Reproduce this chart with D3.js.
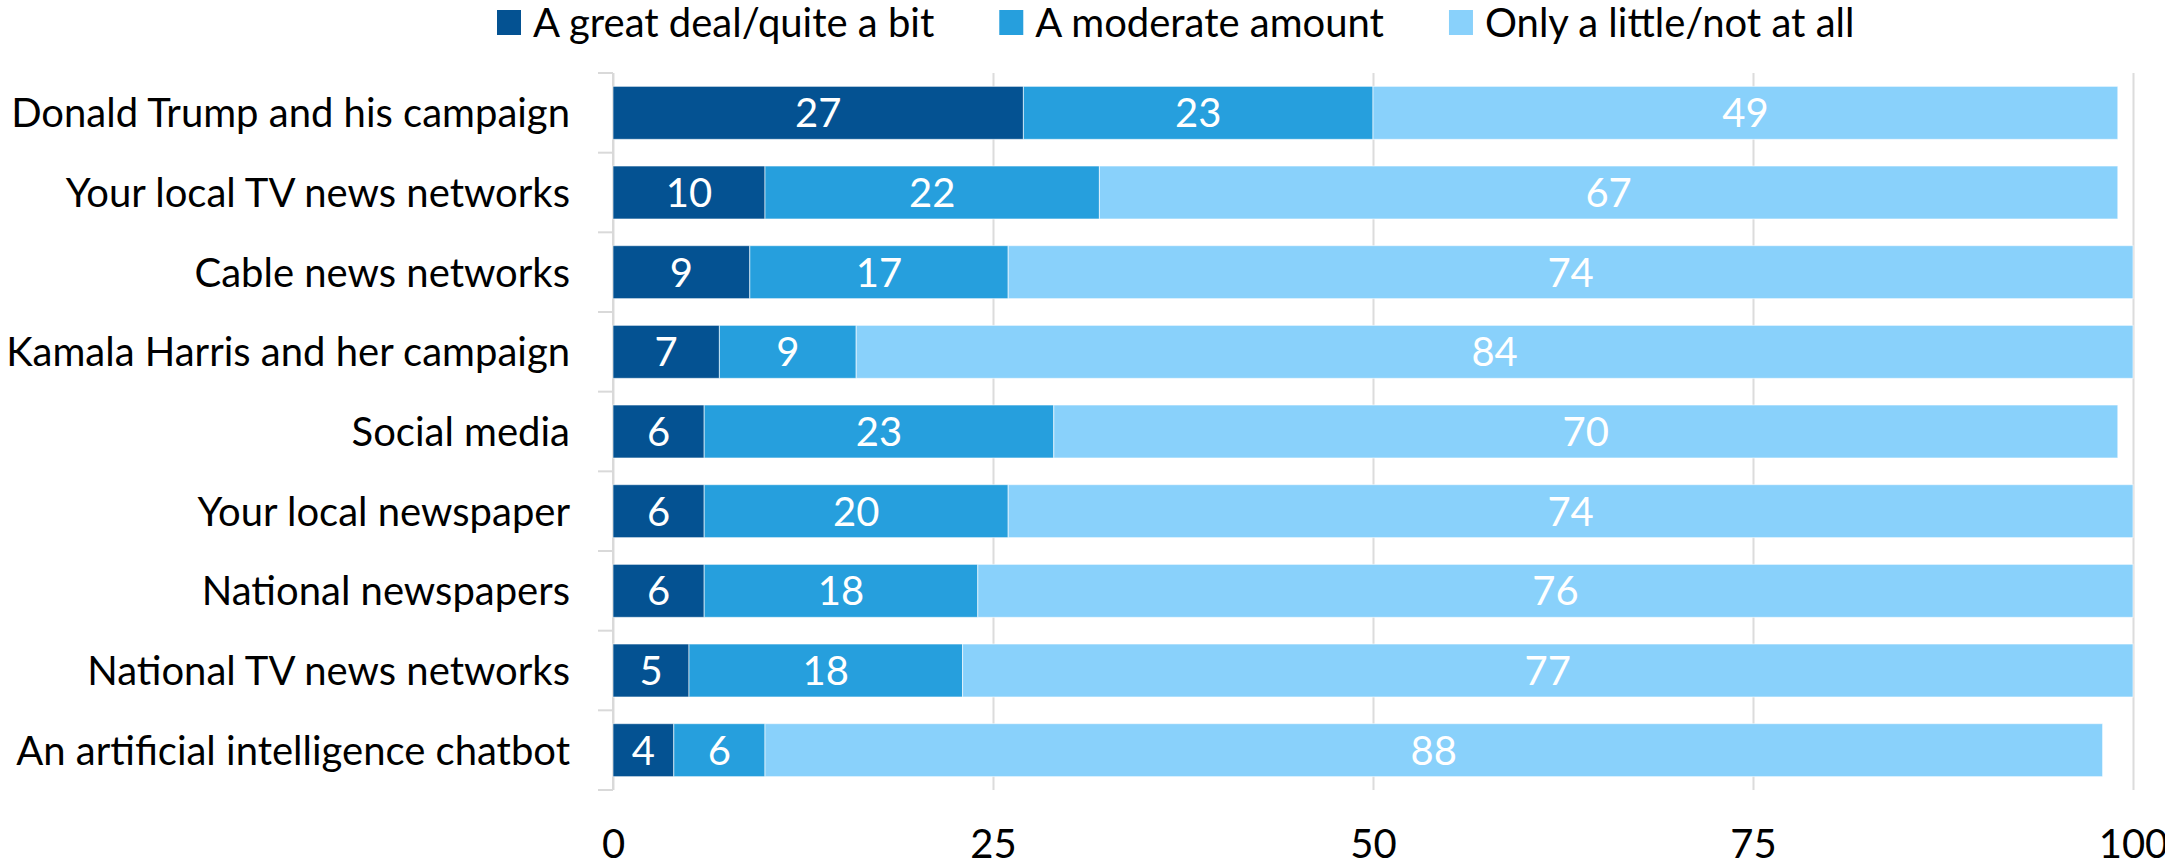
<!doctype html>
<html>
<head>
<meta charset="utf-8">
<script src="https://d3js.org/d3.v7.min.js"></script>
<style>
    body { margin: 0; background: #fff; }
    text { font-family: Lato, "Open Sans", sans-serif; }
</style>
</head>
<body>
<svg width="2165" height="867"></svg>
<script>

// chart values
var categories = [
    "Donald Trump and his campaign",
    "Your local TV news networks",
    "Cable news networks",
    "Kamala Harris and her campaign",
    "Social media",
    "Your local newspaper",
    "National newspapers",
    "National TV news networks",
    "An artificial intelligence chatbot"
];
var seriesNames = ["A great deal/quite a bit", "A moderate amount", "Only a little/not at all"];
var greatDeal = [27, 10, 9, 7, 6, 6, 6, 5, 4];
var moderate  = [23, 22, 17, 9, 23, 20, 18, 18, 6];
var little    = [49, 67, 74, 84, 70, 74, 76, 77, 88];
var xTicks = [0, 25, 50, 75, 100];

var colors = ["#045292", "#269fdd", "#89d1fb"];

var svg = d3.select("svg"),
    plotLeft = 613,
    plotRight = 2133,
    plotTop = 73,
    plotBottom = 790,
    fontSize = 40;

var rows = categories.map(function(c, i) {
    return { cat: c, s0: greatDeal[i], s1: moderate[i], s2: little[i] };
});

var stack = d3.stack().keys(["s0", "s1", "s2"]);
var layers = stack(rows);

var x = d3.scaleLinear().domain([0, 100]).range([plotLeft, plotRight]);
var y = d3.scaleBand().domain(categories).range([plotTop, plotBottom])
    .paddingInner(0.335).paddingOuter(0.1675);

// vertical gridlines
var grid = svg.append("g")
    .attr("transform", "translate(0," + plotBottom + ")")
    .call(d3.axisBottom(x).tickValues(xTicks).tickSize(-(plotBottom - plotTop)).tickFormat(""));
grid.select(".domain").remove();
grid.selectAll("line").attr("stroke", "#dcdcdc").attr("stroke-width", 2);

// y axis line + ticks at band boundaries
var step = y.step();
var bounds = categories.map(function(c) { return y(c) - (step - y.bandwidth()) / 2; });
bounds.push(bounds[bounds.length - 1] + step);
svg.append("line")
    .attr("x1", x(0)).attr("x2", x(0))
    .attr("y1", plotTop).attr("y2", plotBottom)
    .attr("stroke", "#d9d9d9").attr("stroke-width", 2);
svg.selectAll(".ytick")
    .data(bounds)
    .enter().append("line")
    .attr("class", "ytick")
    .attr("x1", x(0) - 15).attr("x2", x(0))
    .attr("y1", function(d) { return d; })
    .attr("y2", function(d) { return d; })
    .attr("stroke", "#d9d9d9").attr("stroke-width", 2);

// category labels
var yAxis = svg.append("g")
    .attr("transform", "translate(" + (x(0) - 43) + ",0)")
    .call(d3.axisLeft(y).tickSize(0).tickPadding(0));
yAxis.select(".domain").remove();
yAxis.selectAll("text")
    .attr("font-size", fontSize)
    .attr("fill", "#000")
    .attr("dy", "0.36em");

// x tick labels
var xAxis = svg.append("g")
    .attr("transform", "translate(0," + plotBottom + ")")
    .call(d3.axisBottom(x).tickValues(xTicks).tickSize(0).tickPadding(0));
xAxis.select(".domain").remove();
xAxis.selectAll("text")
    .attr("font-size", fontSize)
    .attr("fill", "#000")
    .attr("dy", null)
    .attr("y", 68);

// bars
var layer = svg.selectAll(".layer")
    .data(layers)
    .enter().append("g")
    .attr("class", "layer")
    .attr("fill", function(d, i) { return colors[i]; });

layer.selectAll("rect")
    .data(function(d) { return d; })
    .enter().append("rect")
    .attr("x", function(d) { return x(d[0]); })
    .attr("y", function(d) { return y(d.data.cat); })
    .attr("width", function(d) { return x(d[1]) - x(d[0]); })
    .attr("height", y.bandwidth())
    .attr("stroke", "#fff")
    .attr("stroke-opacity", 0.6)
    .attr("stroke-width", 1);

layer.selectAll("text")
    .data(function(d) { return d; })
    .enter().append("text")
    .attr("x", function(d) { return (x(d[0]) + x(d[1])) / 2; })
    .attr("y", function(d) { return y(d.data.cat) + y.bandwidth() / 2; })
    .attr("dy", "0.36em")
    .attr("text-anchor", "middle")
    .attr("fill", "#fff")
    .attr("font-size", fontSize)
    .text(function(d) { return d[1] - d[0]; });

// legend
var legend = svg.append("g").attr("class", "legend");
var lx = 497;
seriesNames.forEach(function(name, i) {
    var item = legend.append("g").attr("transform", "translate(" + lx + ",0)");
    item.append("rect")
        .attr("x", 0).attr("y", 10)
        .attr("width", 24).attr("height", 25)
        .attr("fill", colors[i]);
    var t = item.append("text")
        .attr("x", 36).attr("y", 37)
        .attr("font-size", fontSize)
        .attr("fill", "#000")
        .text(name);
    lx += 36 + t.node().getComputedTextLength() + 65;
});

</script>
</body>
</html>
